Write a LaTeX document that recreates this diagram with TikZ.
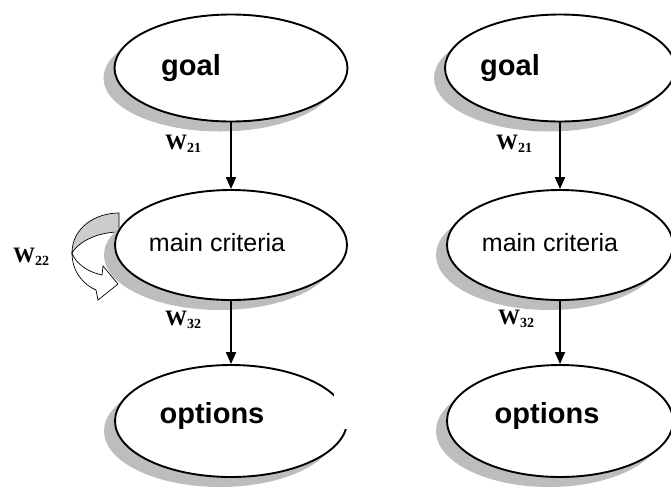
\documentclass[tikz,border=0pt]{standalone}
\usepackage{fontspec}
\setmainfont{Liberation Serif}
\setsansfont{Liberation Sans}
\usetikzlibrary{arrows.meta,shapes.geometric,shadows}

\newcommand{\wlab}[1]{\textbf{\fontsize{22}{22}\selectfont W\raisebox{-3pt}{\fontsize{14}{14}\selectfont #1}}}

\begin{document}
\begin{tikzpicture}[x=1pt,y=-1pt,
	bubble/.style={ellipse,draw,line width=1.9pt,fill=white,inner sep=0pt,
		drop shadow={shadow xshift=-11pt,shadow yshift=-10pt,fill=gray!52,opacity=1}},
	bigtxt/.style={font=\sffamily\bfseries\fontsize{29}{29}\selectfont,inner sep=0pt},
	midtxt/.style={font=\sffamily\fontsize{25}{25}\selectfont,inner sep=0pt},
	wtxt/.style={inner sep=0pt},
	arr/.style={line width=1.9pt,-{Triangle[length=12pt,width=10pt]}}]
			\useasboundingbox (0,0) rectangle (671,491);
			\clip (0,0) rectangle (671,491);
			\filldraw[fill=gray!40,line width=0.7pt] (119,213) .. controls (95,213) and (72,228) .. (72,253) .. controls (80,240) and (100,232) .. (119,232) -- cycle;
			\filldraw[fill=white,line width=0.7pt] (72,253) .. controls (72,272) and (84,285) .. (96,290) -- (98,300) -- (118,284) -- (103,266) -- (102,275) .. controls (88,272) and (76,264) .. (72,253) -- cycle;
			\node[bubble,minimum width=233pt,minimum height=107pt] (goalL) at (231,68) {};
			\node[bubble,minimum width=232pt,minimum height=110pt] (critL) at (231,245) {};
			\node[bubble,minimum width=232pt,minimum height=112pt] (optL) at (231,421) {};
			\fill[white] (334,392) rectangle (353,429);
			\node[bubble,minimum width=230pt,minimum height=107pt] (goalR) at (560,68) {};
			\node[bubble,minimum width=226pt,minimum height=110pt] (critR) at (560,245) {};
			\node[bubble,minimum width=226pt,minimum height=112pt] (optR) at (560,421) {};
			\node[bigtxt] (goalLtxt) at ([xshift=-40pt]goalL.center) {goal};
			\node[midtxt] (critLtxt) at ([xshift=-14pt,yshift=2pt]critL.center) {main criteria};
			\node[bigtxt] (optLtxt) at ([xshift=-19pt,yshift=5pt]optL.center) {options};
			\node[bigtxt] (goalRtxt) at ([xshift=-50pt]goalR.center) {goal};
			\node[midtxt] (critRtxt) at ([xshift=-10pt,yshift=2pt]critR.center) {main criteria};
			\node[bigtxt] (optRtxt) at ([xshift=-13pt,yshift=5pt]optR.center) {options};
			\draw[arr] (goalL) -- (critL);
			\draw[arr] (critL) -- (optL);
			\draw[arr] (goalR) -- (critR);
			\draw[arr] (critR) -- (optR);
			\node[wtxt] (w21L) at (183,144) {\wlab{21}};
			\node[wtxt] (w21R) at (514,144) {\wlab{21}};
			\node[wtxt] (w22) at (31,257) {\wlab{22}};
			\node[wtxt] (w32L) at (183,320) {\wlab{32}};
			\node[wtxt] (w32R) at (516,319) {\wlab{32}};
		\end{tikzpicture}
\end{document}
